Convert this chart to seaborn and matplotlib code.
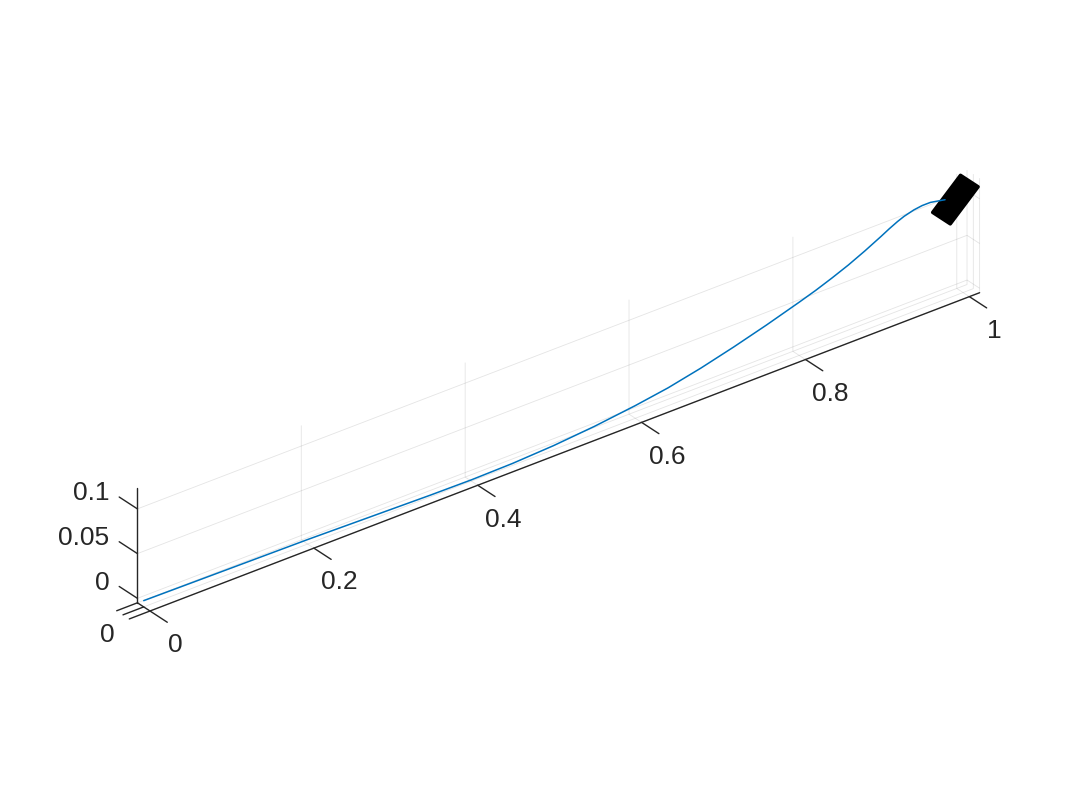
"""
3D trajectory with a vehicle block at the end (MATLAB style look)
"""
import numpy as np
import matplotlib
matplotlib.use("Agg")
import matplotlib.pyplot as plt
import seaborn as sns
from mpl_toolkits.mplot3d import proj3d
from mpl_toolkits.mplot3d.art3d import Poly3DCollection

# trajectory
path_x = [0.0, 0.1, 0.2, 0.3, 0.35, 0.4, 0.45, 0.5, 0.55, 0.6, 0.64, 0.68,
          0.72, 0.76, 0.8, 0.82, 0.84, 0.86, 0.88, 0.9, 0.91, 0.92, 0.928,
          0.94, 0.95, 0.96, 0.97, 0.978]
path_z = [0.002, 0.001, 0.0, -0.002, -0.003, -0.0035, -0.0028, -0.0005,
          0.0035, 0.0092, 0.0150, 0.0230, 0.0325, 0.0430, 0.0545, 0.0606,
          0.0675, 0.0750, 0.0836, 0.0930, 0.0980, 0.1025, 0.1055, 0.1085,
          0.1098, 0.1098, 0.1080, 0.1065]
path_y = [0.0] * len(path_x)

# vehicle block at the end of the path
car_center = (0.990, 0.0, 0.103)
car_length = 0.045
car_width = 0.028
car_pitch_deg = 41.0

x_ticks = [0, 0.2, 0.4, 0.6, 0.8, 1]
x_labels = ["0", "0.2", "0.4", "0.6", "0.8", "1"]
y_ticks = [-0.01, 0, 0.01]
y_labels = ["", "0", ""]
z_ticks = [0, 0.05, 0.1]
z_labels = ["0", "0.05", "0.1"]

xlim = (0, 1.0125)
ylim = (-0.01, 0.01)
zlim = (-0.005, 0.123)

sns.set_theme(style="white")
plt.rcParams["font.family"] = ["Liberation Sans", "DejaVu Sans"]
plt.rcParams["grid.color"] = (0.15, 0.15, 0.15, 0.12)
plt.rcParams["grid.linewidth"] = 0.6

W, H = 1080, 799
fig = plt.figure(figsize=(W / 100, H / 100), dpi=100)
ax = fig.add_axes([0, 0, 1, 1], projection="3d")
ax.set_proj_type("ortho")
ax.view_init(elev=30, azim=-127.5)

ax.plot(path_x, path_y, path_z, color="#0072BD", lw=1.1, clip_on=False)

# vehicle corners from centre, size and pitch
p = np.deg2rad(car_pitch_deg)
hl = 0.5 * car_length * np.array([np.cos(p), 0, np.sin(p)])
hw = 0.5 * car_width * np.array([0, 1, 0])
c = np.array(car_center)
corners = [c + hl + hw, c + hl - hw, c - hl - hw, c - hl + hw]
car = Poly3DCollection([corners], facecolor="black", edgecolor="black",
                       linewidth=2.5, joinstyle="round")
car.set_clip_on(False)
ax.add_collection3d(car)

ax.set_xlim(*xlim)
ax.set_ylim(*ylim)
ax.set_zlim(*zlim)
# grid follows these ticks; the visible ticks/labels are drawn below
ax.set_xticks(x_ticks)
ax.set_yticks(y_ticks)
ax.set_zticks(z_ticks)

ink = (0.15, 0.15, 0.15)
for axis in (ax.xaxis, ax.yaxis, ax.zaxis):
    axis.pane.fill = False
    axis.pane.set_edgecolor((1, 1, 1, 0))
    axis.line.set_color(ink)
    axis.line.set_linewidth(1.0)
    axis._axinfo["tick"]["inward_factor"] = 0.0
    axis._axinfo["tick"]["outward_factor"] = 0.0
    axis.set_tick_params(labelbottom=False)
    axis.label.set_visible(False)
    axis.offsetText.set_visible(False)
for t in (ax.title, ax._left_title, ax._right_title):
    t.set_visible(False)
ax.grid(True)

# MATLAB-like outward ticks and labels
tk = dict(color=ink, lw=1.0, clip_on=False)
txt = dict(color=ink, fontsize=19)
for xt, lab in zip(x_ticks, x_labels):
    ax.plot([xt, xt], [ylim[0], ylim[0] - 0.0275], [zlim[0], zlim[0]], **tk)
    ax.text(xt, ylim[0] - 0.04, zlim[0] - 0.02, lab, ha="center", va="center", **txt)
for yt, lab in zip(y_ticks, y_labels):
    ax.plot([xlim[0], xlim[0] - 0.0253], [yt, yt], [zlim[0], zlim[0]], **tk)
    if lab:
        ax.text(xlim[0] - 0.044, yt, zlim[0] - 0.016, lab, ha="center", va="center", **txt)
for zt, lab in zip(z_ticks, z_labels):
    ax.plot([xlim[0], xlim[0]], [ylim[1], ylim[1] + 0.029], [zt, zt], **tk)
    ax.text(xlim[0], ylim[1] + 0.045, zt - 0.003, lab, ha="right", va="center", **txt)

aspect = (xlim[1] - xlim[0], ylim[1] - ylim[0], zlim[1] - zlim[0])
ax.set_box_aspect(aspect)


def to_px(xx, yy, zz):
    xs, ys, _ = proj3d.proj_transform(xx, yy, zz, ax.get_proj())
    return ax.transData.transform((xs, ys))


# fit scale and placement so the x axis runs where it does in the reference
fig.canvas.draw()
a = to_px(0, ylim[0], zlim[0])
b = to_px(1, ylim[0], zlim[0])
ax.set_box_aspect(aspect, zoom=877.6 / np.hypot(*(b - a)))
fig.canvas.draw()
a = to_px(0, ylim[0], zlim[0])
dx, dy = 150 - a[0], (H - 611) - a[1]
pos = ax.get_position()
ax.set_position([pos.x0 + dx / W, pos.y0 + dy / H, pos.width, pos.height])

fig.savefig("out.png", dpi=100)
